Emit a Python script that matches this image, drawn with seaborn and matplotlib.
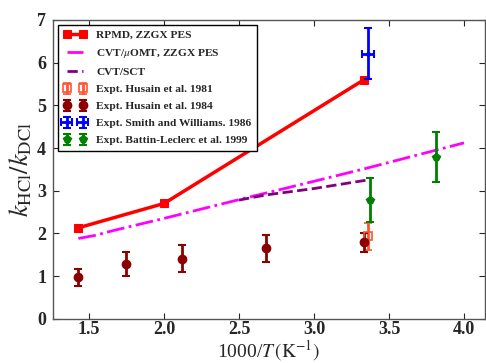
import matplotlib
matplotlib.use('Agg')
import matplotlib.pyplot as plt
import seaborn as sns
import pandas as pd

# RPMD, ZZGX PES
rpmd_x = [1.429, 2.0, 3.333]
rpmd_y = [2.13, 2.70, 5.60]

# CVT/muOMT, ZZGX PES
omt_x = [1.429, 1.538, 1.667, 2.0, 2.5, 3.0, 3.333, 4.0]
omt_y = [1.88, 1.95, 2.07, 2.35, 2.79, 3.22, 3.51, 4.12]

# CVT/SCT
sct_x = [2.5, 2.68, 3.0, 3.356]
sct_y = [2.78, 2.90, 3.05, 3.25]

# Expt. Husain et al. 1981
h81_x = [3.36]
h81_y = [1.93]
h81_err = [0.32]

# Expt. Husain et al. 1984
h84_x = [1.425, 1.745, 2.118, 2.68, 3.33]
h84_y = [0.97, 1.28, 1.41, 1.65, 1.79]
h84_err = [0.20, 0.28, 0.31, 0.31, 0.23]

# Expt. Smith and Williams 1986
sw_x = [3.36]
sw_y = [6.21]
sw_yerr = [0.60]
sw_xerr = [0.04]

# Expt. Battin-Leclerc et al. 1999
bl_x = [3.37, 3.81]
bl_y = [2.78, 3.79]
bl_err = [0.52, 0.59]

sns.set_style("ticks")
plt.rcParams['font.family'] = ['Liberation Serif', 'DejaVu Serif']
plt.rcParams['mathtext.fontset'] = 'stix'

fig = plt.figure(figsize=(4.86, 3.63), dpi=100)
ax = fig.add_axes([0.109, 0.122, 0.889, 0.823])

sns.lineplot(x=rpmd_x, y=rpmd_y, ax=ax, color='red', lw=2.5, marker='s', markersize=6,
             markeredgecolor='red', label='RPMD, ZZGX PES')
sns.lineplot(x=omt_x, y=omt_y, ax=ax, color='magenta', lw=2, linestyle='-.',
             label=r'CVT/$\mu$OMT, ZZGX PES')
sns.lineplot(x=sct_x, y=sct_y, ax=ax, color='purple', lw=2, linestyle='--',
             label='CVT/SCT')

eb = dict(capsize=3, elinewidth=2, capthick=1.5, linestyle='none')
ax.errorbar(h81_x, h81_y, yerr=h81_err, color='#ff5533', marker='s', markersize=6,
            markerfacecolor='none', markeredgewidth=1.2, label='Expt. Husain et al. 1981', **eb)
ax.errorbar(h84_x, h84_y, yerr=h84_err, color='#8b0000', marker='o', markersize=6,
            label='Expt. Husain et al. 1984', **eb)
ax.errorbar(sw_x, sw_y, yerr=sw_yerr, xerr=sw_xerr, color='blue', marker='.', markersize=5,
            label='Expt. Smith and Williams. 1986', **eb)
ax.errorbar(bl_x, bl_y, yerr=bl_err, color='green', marker='p', markersize=6,
            label='Expt. Battin-Leclerc et al. 1999', **eb)

ax.set_xlim(1.26, 4.14)
ax.set_ylim(0, 7)
ax.set_xticks([1.5, 2.0, 2.5, 3.0, 3.5, 4.0])
ax.set_yticks(range(8))
ax.tick_params(direction='in', top=True, right=True, length=4, labelsize=13)
ax.tick_params(axis='x', pad=2)
ax.tick_params(axis='y', pad=5)
for lab in ax.get_xticklabels() + ax.get_yticklabels():
    lab.set_fontweight('bold')
for s in ax.spines.values():
    s.set_linewidth(1.0)
    s.set_color('#555555')

ax.set_xlabel(r'1000/$T\,(\mathrm{K}^{-1})$', fontsize=14, labelpad=0)
ax.set_ylabel(r'$k_{\mathrm{HCl}}/k_{\mathrm{DCl}}$', fontsize=19, labelpad=2)

leg = ax.legend(loc='upper left', numpoints=2, prop={'weight': 'bold', 'size': 8.2},
                fancybox=False, edgecolor='black', framealpha=1, borderaxespad=0.4,
                handlelength=2.0, handletextpad=0.9, labelspacing=0.62, borderpad=0.5)
leg.get_frame().set_linewidth(1.0)

fig.savefig('out.png', dpi=100)
